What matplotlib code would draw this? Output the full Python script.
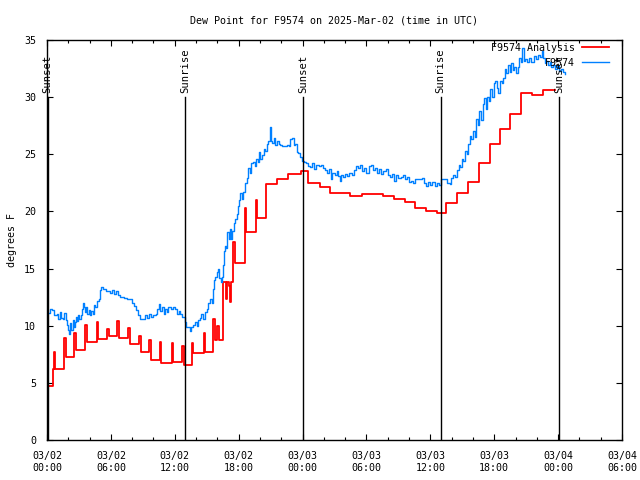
import matplotlib
matplotlib.use('Agg')
import matplotlib.pyplot as plt
import matplotlib.dates as mdates
from datetime import datetime, timedelta

# hours after 2025-03-02 00:00 UTC
t0 = datetime(2025, 3, 2, 0, 0)

# F9574 observations (blue)
obs_hours = [0.0, 0.25, 0.5, 0.7, 0.9, 1.0, 1.2, 1.35, 1.5, 1.6, 1.75, 1.9, 2.0, 2.1, 2.2, 2.3,
             2.4, 2.5, 2.6, 2.7, 2.8, 2.9, 3.0, 3.15, 3.3, 3.4, 3.5, 3.6, 3.7, 3.8, 3.9, 4.0,
             4.15, 4.3, 4.4, 4.55, 4.7, 4.85, 5.0, 5.1, 5.3, 5.5, 5.65, 5.9, 6.1, 6.3, 6.5, 6.7,
             6.9, 7.2, 7.5, 7.8, 8.0, 8.2, 8.4, 8.55, 8.7, 9.0, 9.2, 9.4, 9.6, 9.8, 10.0, 10.2,
             10.35, 10.5, 10.65, 10.8, 10.95, 11.1, 11.25, 11.4, 11.6, 11.8, 12.0, 12.2, 12.4,
             12.5, 12.7, 12.96, 13.05, 13.2, 13.4, 13.55, 13.74, 13.9, 14.05, 14.2, 14.35, 14.5,
             14.65, 14.8, 15.0, 15.15, 15.3, 15.45, 15.6, 15.7, 15.8, 15.95, 16.05, 16.15, 16.3,
             16.45, 16.55, 16.65, 16.75, 16.85, 16.95, 17.05, 17.15, 17.3, 17.4, 17.55, 17.65,
             17.8, 17.95, 18.05, 18.15, 18.3, 18.45, 18.6, 18.75, 18.9, 19.05, 19.2, 19.35, 19.5,
             19.65, 19.8, 19.95, 20.05, 20.2, 20.35, 20.5, 20.65, 20.8, 20.9, 21.0, 21.15, 21.3,
             21.45, 21.6, 21.75, 21.9, 22.1, 22.3, 22.5, 22.7, 22.85, 23.0, 23.15, 23.3, 23.45,
             23.6, 23.8, 23.95, 24.1, 24.3, 24.5, 24.7, 24.9, 25.1, 25.3, 25.5, 25.7, 25.9, 26.1,
             26.3, 26.5, 26.65, 26.8, 27.0, 27.2, 27.35, 27.5, 27.65, 27.8, 28.0, 28.2, 28.4,
             28.6, 28.8, 29.0, 29.2, 29.4, 29.6, 29.8, 30.0, 30.2, 30.4, 30.6, 30.8, 31.0, 31.2,
             31.4, 31.6, 31.8, 32.0, 32.2, 32.4, 32.6, 32.8, 33.0, 33.2, 33.4, 33.6, 33.8, 34.0,
             34.2, 34.4, 34.6, 34.8, 35.0, 35.2, 35.4, 35.6, 35.8, 36.0, 36.2, 36.4, 36.6, 36.8,
             37.0, 37.2, 37.4, 37.6, 37.8, 37.95, 38.1, 38.3, 38.5, 38.65, 38.8, 38.95, 39.1,
             39.25, 39.4, 39.55, 39.7, 39.85, 40.0, 40.15, 40.3, 40.45, 40.6, 40.75, 40.9, 41.05,
             41.2, 41.35, 41.5, 41.65, 41.8, 41.95, 42.1, 42.25, 42.4, 42.55, 42.7, 42.85, 43.0,
             43.15, 43.3, 43.45, 43.6, 43.75, 43.9, 44.05, 44.2, 44.35, 44.5, 44.6, 44.75, 44.9,
             45.1, 45.3, 45.5, 45.7, 45.9, 46.1, 46.3, 46.45, 46.6, 46.75, 46.9, 47.05, 47.2,
             47.35, 47.5, 47.7, 47.9, 48.1, 48.3, 48.5, 48.6]
obs_dewpt = [11.1, 11.5, 11.4, 10.9, 11.0, 10.6, 11.2, 10.7, 10.6, 11.1, 10.5, 10.1, 9.6, 9.3, 10.2, 9.6,
             10.5, 9.9, 10.3, 10.8, 10.4, 10.9, 10.6, 10.9, 11.5, 12.0, 11.6, 11.2, 11.6, 11.0, 11.4, 10.9,
             11.3, 11.0, 11.8, 11.6, 12.2, 12.3, 13.1, 13.4, 13.2, 13.0, 13.0, 12.9, 13.1, 12.8, 13.0, 12.7,
             12.5, 12.4, 12.3, 12.3, 12.0, 11.7, 11.4, 10.9, 10.6, 10.6, 10.9, 10.7, 11.0, 10.8, 10.9, 11.0,
             11.5, 11.9, 11.3, 11.6, 11.0, 11.5, 11.2, 11.6, 11.5, 11.6, 11.5, 11.0, 11.3,
             11.0, 10.8, 10.3, 9.9, 9.9, 9.5, 9.9, 10.1, 10.3, 10.0, 10.5, 10.7, 11.0,
             10.6, 11.2, 11.5, 12.0, 12.3, 12.0, 13.2, 14.0, 14.3, 14.7, 15.0, 14.2, 13.8,
             14.3, 15.3, 16.5, 17.0, 16.8, 18.2, 17.6, 18.5, 17.6, 18.3, 19.0, 19.3,
             19.8, 20.5, 21.0, 21.6, 21.1, 21.7, 22.5, 22.9, 23.8, 23.4, 24.2, 24.3, 24.0,
             24.6, 24.3, 25.2, 24.6, 24.9, 25.5, 25.3, 25.9, 26.2, 27.4, 26.2, 26.0, 26.4,
             25.8, 26.2, 25.9, 25.8, 25.7, 25.7, 25.8, 25.7, 26.3, 26.4, 25.8, 25.9, 25.2,
             25.1, 24.8, 24.4, 24.3, 24.2, 24.0, 23.9, 24.2, 23.7, 24.1, 24.0, 24.1, 23.8, 23.6,
             23.4, 23.7, 22.8, 23.4, 23.2, 23.5, 23.1, 22.7, 23.2, 23.0, 23.3, 23.1, 23.4,
             23.2, 23.6, 24.0, 23.8, 24.1, 23.5, 23.8, 23.4, 24.0, 24.1, 23.6, 23.8, 23.4, 23.7,
             23.3, 23.5, 23.7, 23.2, 23.0, 23.3, 22.7, 23.2, 22.9, 23.0, 23.2, 22.8, 23.0, 22.6,
             22.7, 22.5, 22.8, 22.8, 22.8, 22.9, 22.5, 22.2, 22.6, 22.3, 22.6, 22.2, 22.5, 22.3,
             22.8, 22.8, 22.8, 22.5, 22.4, 22.9, 23.2, 23.0, 23.6, 24.1, 23.9, 24.6, 24.4,
             25.3, 25.0, 25.9, 26.6, 26.3, 27.0, 26.5, 28.1, 27.6, 28.8, 28.0, 29.4, 29.9,
             29.0, 30.0, 29.7, 30.7, 30.0, 31.2, 31.4, 30.8, 30.4, 31.4, 31.2, 31.7, 32.5,
             32.1, 32.8, 32.2, 33.0, 32.4, 32.6, 32.1, 32.6, 33.4, 33.1, 34.3, 33.2, 33.3,
             33.1, 33.4, 33.1, 33.6, 33.3, 33.7, 33.5, 34.0, 33.4, 33.0, 33.2, 32.8, 33.1,
             32.6, 32.8, 32.5, 32.7, 32.3, 32.5, 32.2, 32.0]

# F9574 Analysis (red), hourly steps with short spikes
ana_hours = [0.0, 0.55, 0.62, 0.77, 1.6, 1.75, 2.57, 2.72, 3.57, 3.72, 4.66, 4.81, 5.66, 5.81,
             6.6, 6.75, 7.6, 7.75, 8.65, 8.8, 9.6, 9.75, 10.6, 10.75, 11.7, 11.85, 12.7, 12.85,
             13.6, 13.75, 14.7, 14.85, 15.6, 15.75, 16.0, 16.12, 16.5, 16.85, 16.95, 17.1, 17.2,
             17.3, 17.5, 17.65, 18.55, 18.7, 19.6, 19.75, 20.6, 21.6, 22.65, 23.85, 24.55, 25.6,
             26.6, 28.5, 29.55, 31.6, 32.6, 33.6, 34.55, 35.6, 36.65, 37.5, 38.5, 39.55, 40.6,
             41.6, 42.5, 43.5, 44.5, 45.55, 46.6, 47.7]
ana_dewpt = [4.7, 6.2, 7.7, 6.2, 8.9, 7.3, 9.4, 7.9, 10.1, 8.6, 10.3, 8.8, 9.7, 9.1,
             10.45, 8.9, 9.8, 8.4, 9.1, 7.7, 8.75, 7.0, 8.6, 6.75, 8.5, 6.85, 8.2, 6.55,
             8.45, 7.6, 9.4, 7.7, 10.6, 8.75, 10.0, 8.75, 13.85, 12.3, 13.85, 13.5, 12.1,
             13.85, 17.3, 15.5, 20.3, 18.2, 21.0, 19.4, 22.4, 22.8, 23.3, 23.5, 22.45, 22.1,
             21.65, 21.35, 21.5, 21.35, 21.05, 20.8, 20.3, 20.0, 19.9, 20.7, 21.65, 22.6, 24.2,
             25.9, 27.2, 28.5, 30.4, 30.2, 30.6, 30.6]

# sunrise / sunset markers (hours)
event_hours = [0.05, 12.95, 24.05, 36.97, 48.08]
event_names = ['Sunset', 'Sunrise', 'Sunset', 'Sunrise', 'Sunset']

plt.rcParams['font.family'] = 'DejaVu Sans Mono'
plt.rcParams['font.size'] = 7.2

def to_dt(hours):
    return [t0 + timedelta(hours=h) for h in hours]

fig = plt.figure(figsize=(6.4, 4.8), dpi=100)
ax = fig.add_axes([47 / 640, 40 / 480, 575 / 640, 400 / 480])

ax.plot(to_dt(ana_hours), ana_dewpt, drawstyle='steps-post', color='#ff0000',
        linewidth=1.3, label='F9574 Analysis')
ax.plot(to_dt(obs_hours), obs_dewpt, drawstyle='steps-post', color='#0080ff',
        linewidth=1.0, label='F9574')

for h, name in zip(event_hours, event_names):
    d = t0 + timedelta(hours=h)
    ax.plot([d, d], [0, 30.0], color='black', linewidth=1.0)
    ax.text(d, 30.35, name, rotation=90, ha='center', va='bottom', fontsize=7.6)

ax.set_xlim(t0, t0 + timedelta(hours=54))
ax.set_ylim(0, 35)
ax.set_yticks(range(0, 36, 5))
ax.xaxis.set_major_locator(mdates.HourLocator(byhour=[0, 6, 12, 18]))
ax.xaxis.set_minor_locator(mdates.HourLocator(interval=2))
ax.xaxis.set_major_formatter(mdates.DateFormatter('%m/%d\n%H:%M'))

ax.tick_params(which='both', direction='in', top=True, right=True, colors='black')
ax.tick_params(which='major', length=4.5, width=0.8, pad=8)
ax.tick_params(which='minor', length=2.5, width=0.8)
ax.tick_params(axis='y', pad=8)
for s in ax.spines.values():
    s.set_linewidth(1.0)

ax.set_ylabel('degrees F', labelpad=5)
ax.set_title('Dew Point for F9574 on 2025-Mar-02 (time in UTC)', fontsize=7.2, pad=12)

ax.legend(loc='upper right', bbox_to_anchor=(0.981, 0.9975), frameon=False,
          markerfirst=False, handlelength=2.7, handletextpad=0.7, labelspacing=0.5,
          borderaxespad=0.0, borderpad=0.2)

fig.savefig('out.png', dpi=100)
